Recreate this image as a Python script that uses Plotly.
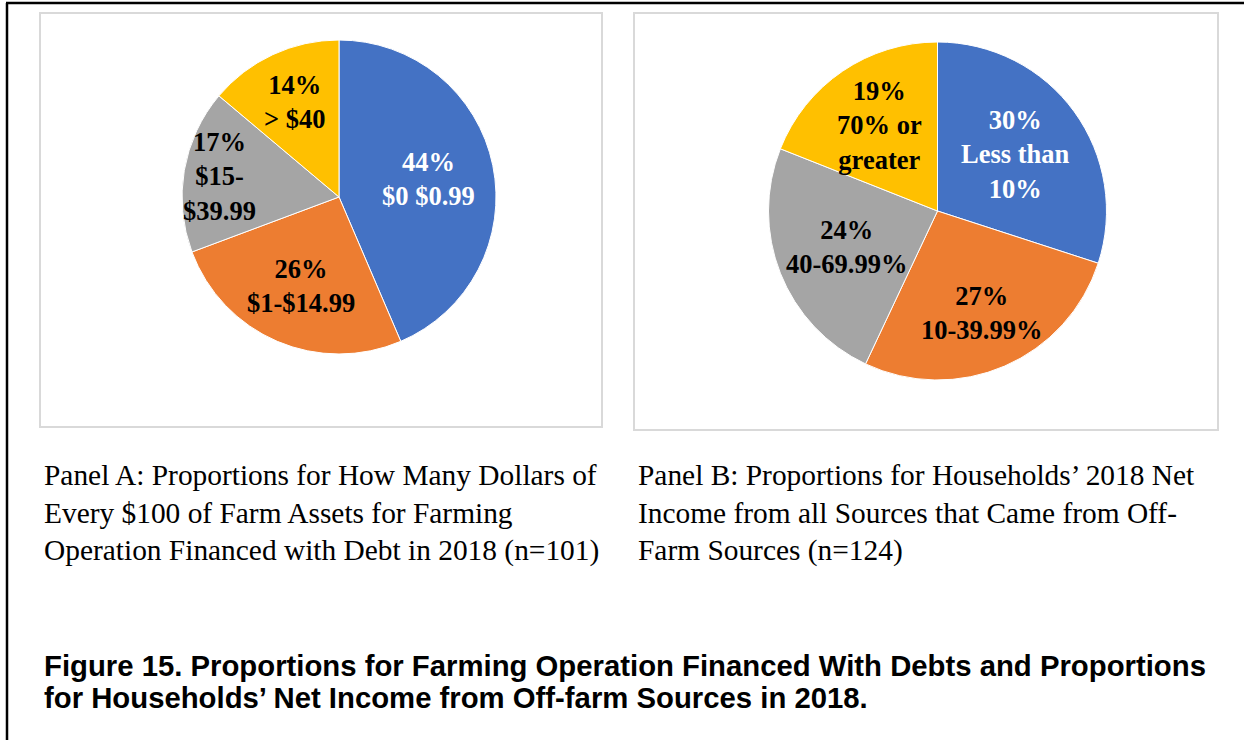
import math

import plotly.graph_objects as go

# ---------------------------------------------------------------------------
# Données
# ---------------------------------------------------------------------------
debt_labels = ["$0 $0.99", "$1-$14.99", "$15-<br>$39.99", "> $40"]
debt_values = [44, 26, 17, 14]

income_labels = ["Less than<br>10%", "10-39.99%", "40-69.99%", "70% or<br>greater"]
income_values = [30, 27, 24, 19]

caption_a = [
    "Panel A: Proportions for How Many Dollars of",
    "Every $100 of Farm Assets for Farming",
    "Operation Financed with Debt in 2018 (n=101)",
]
caption_b = [
    "Panel B: Proportions for Households\u2019 2018 Net",
    "Income from all Sources that Came from Off-",
    "Farm Sources (n=124)",
]
title_lines = [
    "Figure 15. Proportions for Farming Operation Financed With Debts and Proportions",
    "for Households\u2019 Net Income from Off-farm Sources in 2018.",
]

# ---------------------------------------------------------------------------
# Style / mise en page (pixels)
# ---------------------------------------------------------------------------
W, H = 1244, 740
SLICE_COLORS = ["#4472C4", "#ED7D31", "#A5A5A5", "#FFC000"]
LABEL_COLORS = ["white", "black", "black", "black"]
SERIF = "Liberation Serif, Times New Roman, serif"
SANS = "Liberation Sans, Arial, sans-serif"

PIE_A = dict(cx=339, cy=197, r=157, label_r=[0.58, 0.62, 0.77, 0.67])
PIE_B = dict(cx=937.5, cy=211, r=169, label_r=[0.57, 0.66, 0.58, 0.61])


def px_x(x):
    return x / W


def px_y(y):
    return 1 - y / H


def add_pie(fig, values, labels, geo):
    cx, cy, r = geo["cx"], geo["cy"], geo["r"]
    fig.add_trace(
        go.Pie(
            values=values,
            sort=False, direction="clockwise", rotation=0,
            marker=dict(colors=SLICE_COLORS, line=dict(color="white", width=1)),
            textinfo="none", hoverinfo="skip", showlegend=False,
            domain=dict(x=[px_x(cx - r), px_x(cx + r)], y=[px_y(cy + r), px_y(cy - r)]),
        )
    )
    total = sum(values)
    cum = 0
    for i, (v, lab) in enumerate(zip(values, labels)):
        mid = (cum + v / 2) / total * 2 * math.pi
        cum += v
        rr = geo["label_r"][i] * r
        fig.add_annotation(
            x=px_x(cx + rr * math.sin(mid)), y=px_y(cy - rr * math.cos(mid)),
            xref="paper", yref="paper", xanchor="center", yanchor="middle",
            text=f"<b>{v}%<br>{lab}</b>", showarrow=False, align="center",
            font=dict(family=SERIF, size=26.5, color=LABEL_COLORS[i]),
        )


def add_lines(fig, lines, x0, y0, step, font):
    for k, line in enumerate(lines):
        fig.add_annotation(
            x=px_x(x0), y=px_y(y0 + k * step), xref="paper", yref="paper",
            xanchor="left", yanchor="middle", text=line, showarrow=False,
            font=font,
        )


fig = go.Figure()

# cadres
box = dict(type="rect", xref="paper", yref="paper", line=dict(color="#D9D9D9", width=2),
           fillcolor="white", layer="below")
fig.add_shape(x0=px_x(40), x1=px_x(602), y0=px_y(427), y1=px_y(13), **box)
fig.add_shape(x0=px_x(634), x1=px_x(1218), y0=px_y(430), y1=px_y(13), **box)
border = dict(type="line", xref="paper", yref="paper", line=dict(color="black", width=2.5))
fig.add_shape(x0=px_x(6), x1=1, y0=px_y(3), y1=px_y(3), **border)
fig.add_shape(x0=px_x(7), x1=px_x(7), y0=px_y(3), y1=0, **border)

add_pie(fig, debt_values, debt_labels, PIE_A)
add_pie(fig, income_values, income_labels, PIE_B)

add_lines(fig, caption_a, 42, 475, 37.5, dict(family=SERIF, size=29.4, color="black"))
add_lines(fig, caption_b, 636, 475, 37.5, dict(family=SERIF, size=29.4, color="black"))
add_lines(fig, [f"<b>{t}</b>" for t in title_lines], 42, 665, 32,
          dict(family=SANS, size=29.3, color="black"))

fig.update_layout(
    width=W, height=H, autosize=False,
    margin=dict(l=0, r=0, t=0, b=0),
    paper_bgcolor="white", plot_bgcolor="white",
)

# la page HTML par défaut a une marge de 8 px autour du graphique
fig.write_html(
    "out.html",
    config={"displayModeBar": False},
    post_script="document.body.style.margin='0';document.body.style.overflow='hidden';",
)
